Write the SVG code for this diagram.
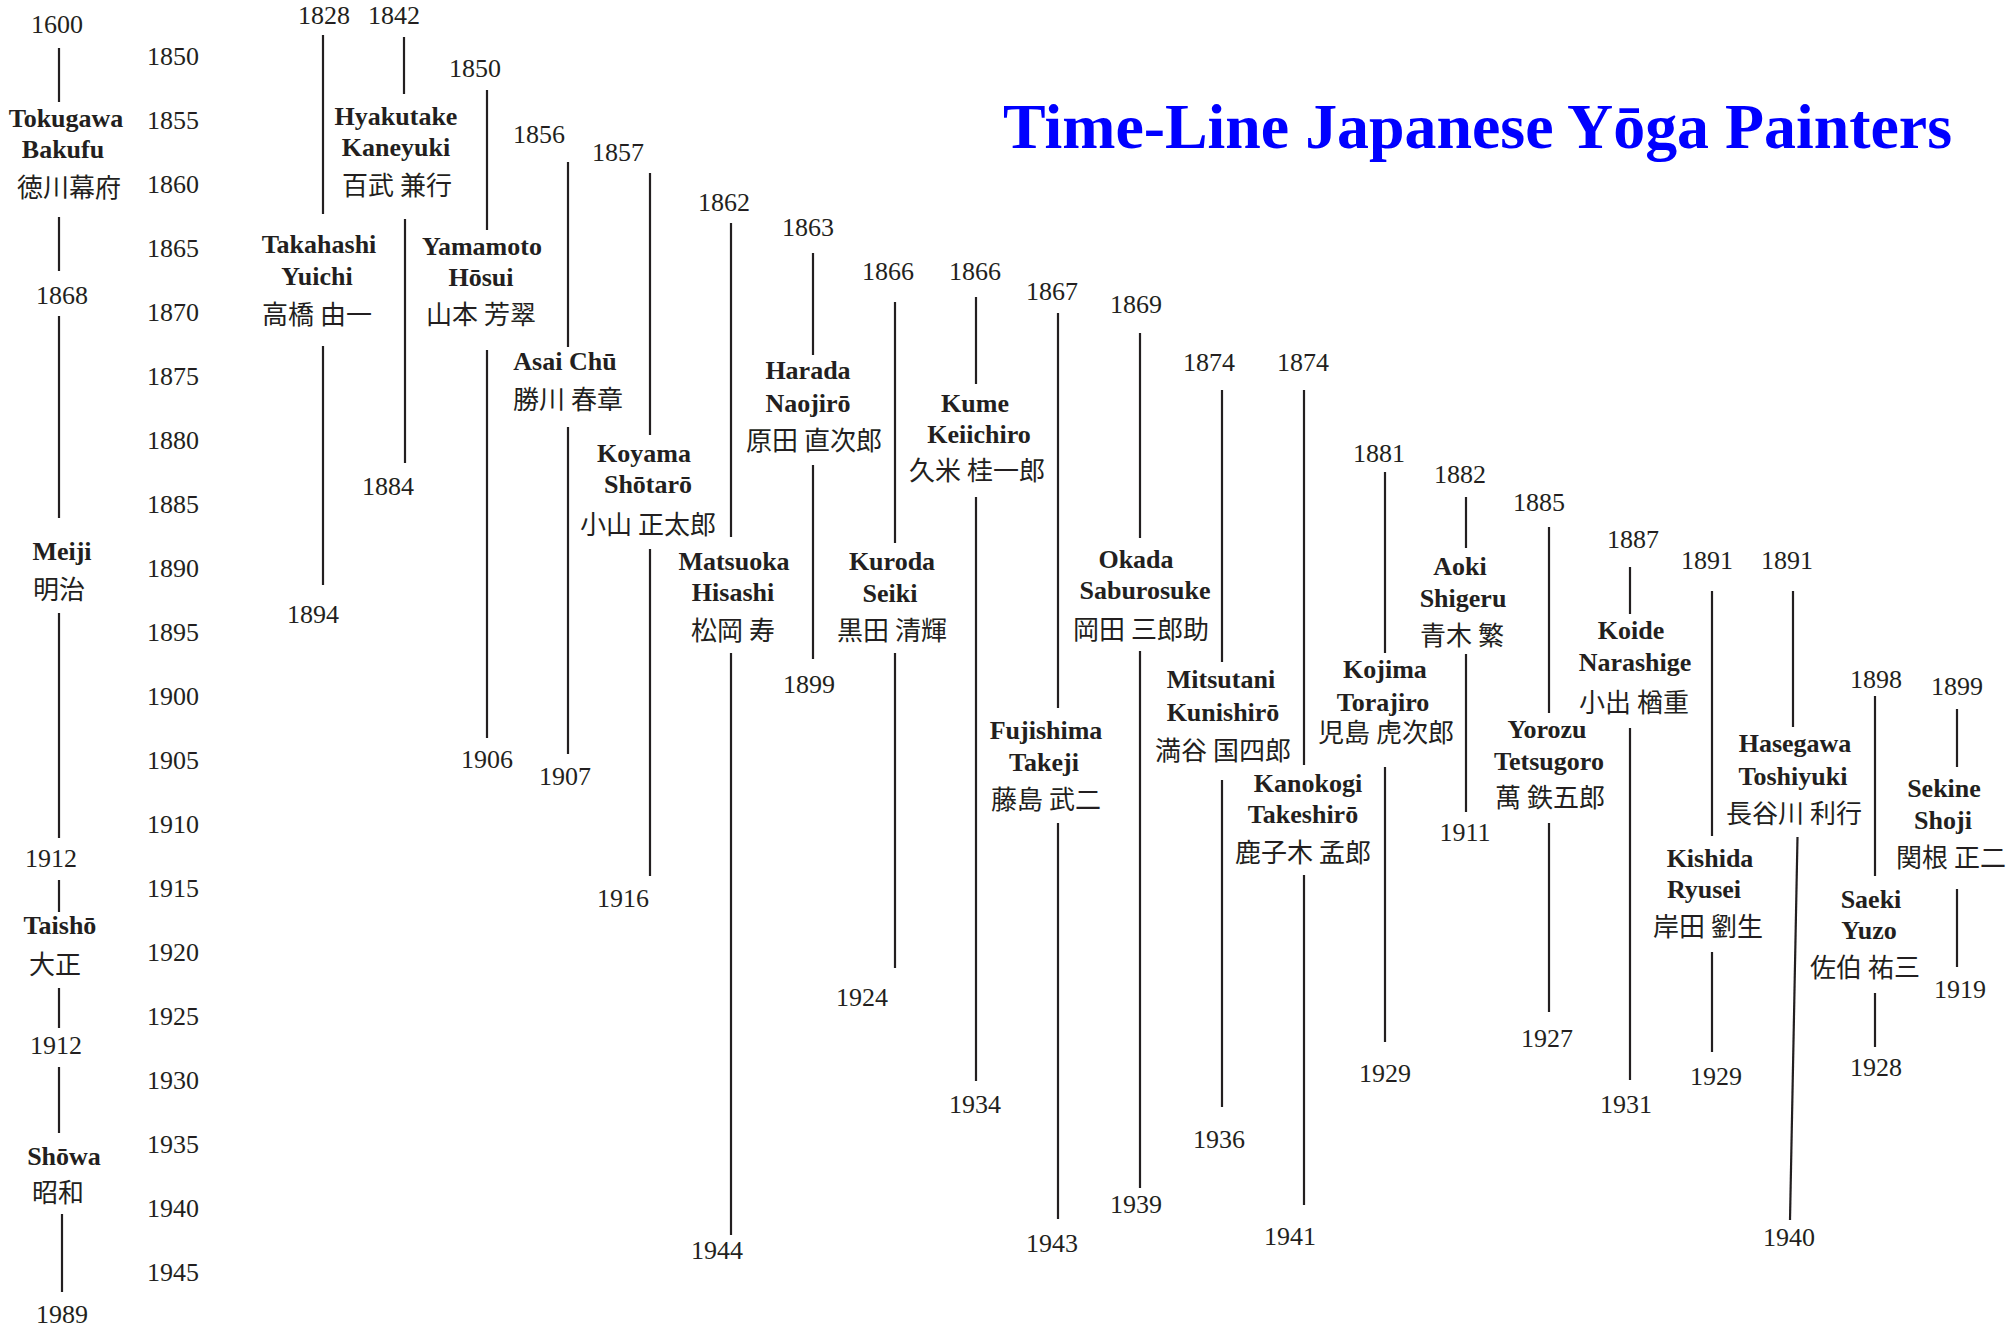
<svg xmlns="http://www.w3.org/2000/svg" width="2011" height="1329" viewBox="0 0 2011 1329">
<style>
text { font-family: "Liberation Serif", "Times New Roman", serif; font-size: 26px; fill: #231f20; text-anchor: middle; }
.b { font-weight: bold; }
.j { font-family: "Noto Sans CJK JP", "Noto Sans CJK SC", sans-serif; font-size: 26px; }
.title { font-size: 64px; font-weight: bold; fill: #0000ff; text-anchor: start; }
#connectors line { stroke: #231f20; stroke-width: 2.2; }
</style>
<rect width="2011" height="1329" fill="#ffffff"/>

<text class="title b" x="1003" y="148" textLength="949" lengthAdjust="spacingAndGlyphs">Time-Line Japanese Yōga Painters</text>

<g id="connectors">
  <!-- eras -->
  <line x1="59" y1="48" x2="59" y2="102"/>
  <line x1="59" y1="217" x2="59" y2="271"/>
  <line x1="59" y1="316" x2="59" y2="518"/>
  <line x1="59" y1="613" x2="59" y2="838"/>
  <line x1="59" y1="880" x2="59" y2="912"/>
  <line x1="59" y1="988" x2="59" y2="1028"/>
  <line x1="59" y1="1067" x2="59" y2="1133"/>
  <line x1="62" y1="1214" x2="62" y2="1292"/>
  <!-- Takahashi -->
  <line x1="323" y1="35" x2="323" y2="214"/>
  <line x1="323" y1="346" x2="323" y2="585"/>
  <!-- Hyakutake -->
  <line x1="404" y1="37" x2="404" y2="94"/>
  <line x1="405" y1="219" x2="405" y2="463"/>
  <!-- Yamamoto -->
  <line x1="487" y1="90" x2="487" y2="230"/>
  <line x1="487" y1="350" x2="487" y2="738"/>
  <!-- Asai -->
  <line x1="568" y1="162" x2="568" y2="347"/>
  <line x1="568" y1="427" x2="568" y2="754"/>
  <!-- Koyama -->
  <line x1="650" y1="173" x2="650" y2="435"/>
  <line x1="650" y1="549" x2="650" y2="876"/>
  <!-- Matsuoka -->
  <line x1="731" y1="223" x2="731" y2="537"/>
  <line x1="731" y1="653" x2="731" y2="1235"/>
  <!-- Harada -->
  <line x1="813" y1="253" x2="813" y2="355"/>
  <line x1="813" y1="465" x2="813" y2="659"/>
  <!-- Kuroda -->
  <line x1="895" y1="302" x2="895" y2="543"/>
  <line x1="895" y1="653" x2="895" y2="968"/>
  <!-- Kume -->
  <line x1="976" y1="297" x2="976" y2="384"/>
  <line x1="976" y1="497" x2="976" y2="1081"/>
  <!-- Fujishima -->
  <line x1="1058" y1="313" x2="1058" y2="708"/>
  <line x1="1058" y1="823" x2="1058" y2="1219"/>
  <!-- Okada -->
  <line x1="1140" y1="333" x2="1140" y2="538"/>
  <line x1="1140" y1="651" x2="1140" y2="1188"/>
  <!-- Mitsutani -->
  <line x1="1222" y1="390" x2="1222" y2="662"/>
  <line x1="1222" y1="780" x2="1222" y2="1107"/>
  <!-- Kanokogi -->
  <line x1="1304" y1="390" x2="1304" y2="765"/>
  <line x1="1304" y1="875" x2="1304" y2="1205"/>
  <!-- Kojima -->
  <line x1="1385" y1="472" x2="1385" y2="653"/>
  <line x1="1385" y1="767" x2="1385" y2="1042"/>
  <!-- Aoki -->
  <line x1="1466" y1="497" x2="1466" y2="548"/>
  <line x1="1466" y1="654" x2="1466" y2="812"/>
  <!-- Yorozu -->
  <line x1="1549" y1="527" x2="1549" y2="713"/>
  <line x1="1549" y1="823" x2="1549" y2="1012"/>
  <!-- Koide -->
  <line x1="1630" y1="567" x2="1630" y2="614"/>
  <line x1="1630" y1="728" x2="1630" y2="1080"/>
  <!-- Kishida -->
  <line x1="1712" y1="591" x2="1712" y2="836"/>
  <line x1="1712" y1="952" x2="1712" y2="1052"/>
  <!-- Hasegawa -->
  <line x1="1793" y1="591" x2="1793" y2="727"/>
  <line x1="1797.5" y1="837" x2="1790" y2="1220"/>
  <!-- Saeki -->
  <line x1="1875" y1="696" x2="1875" y2="876"/>
  <line x1="1875" y1="993" x2="1875" y2="1047"/>
  <!-- Sekine -->
  <line x1="1957" y1="709" x2="1957" y2="767"/>
  <line x1="1957" y1="889" x2="1957" y2="967"/>
</g>

<g id="axis">
  <text x="173" y="65">1850</text>
  <text x="173" y="129">1855</text>
  <text x="173" y="193">1860</text>
  <text x="173" y="257">1865</text>
  <text x="173" y="321">1870</text>
  <text x="173" y="385">1875</text>
  <text x="173" y="449">1880</text>
  <text x="173" y="513">1885</text>
  <text x="173" y="577">1890</text>
  <text x="173" y="641">1895</text>
  <text x="173" y="705">1900</text>
  <text x="173" y="769">1905</text>
  <text x="173" y="833">1910</text>
  <text x="173" y="897">1915</text>
  <text x="173" y="961">1920</text>
  <text x="173" y="1025">1925</text>
  <text x="173" y="1089">1930</text>
  <text x="173" y="1153">1935</text>
  <text x="173" y="1217">1940</text>
  <text x="173" y="1281">1945</text>
</g>

<g id="era-tokugawa">
  <text x="57" y="33">1600</text>
  <text class="b" x="66" y="127">Tokugawa</text>
  <text class="b" x="63" y="158">Bakufu</text>
  <text class="j" x="69" y="197">徳川幕府</text>
  <text x="62" y="304">1868</text>
</g>
<g id="era-meiji">
  <text class="b" x="62" y="560">Meiji</text>
  <text class="j" x="59" y="599">明治</text>
  <text x="51" y="867">1912</text>
</g>
<g id="era-taisho">
  <text class="b" x="60" y="934">Taishō</text>
  <text class="j" x="55" y="974">大正</text>
  <text x="56" y="1054">1912</text>
</g>
<g id="era-showa">
  <text class="b" x="64" y="1165">Shōwa</text>
  <text class="j" x="58" y="1202">昭和</text>
  <text x="62" y="1323">1989</text>
</g>

<g id="takahashi">
  <text x="324" y="24">1828</text>
  <text class="b" x="319" y="253">Takahashi</text>
  <text class="b" x="317" y="285">Yuichi</text>
  <text class="j" x="317" y="324">高橋 由一</text>
  <text x="313" y="623">1894</text>
</g>
<g id="hyakutake">
  <text x="394" y="24">1842</text>
  <text class="b" x="396" y="125">Hyakutake</text>
  <text class="b" x="396" y="156">Kaneyuki</text>
  <text class="j" x="397" y="195">百武 兼行</text>
  <text x="388" y="495">1884</text>
</g>
<g id="yamamoto">
  <text x="475" y="77">1850</text>
  <text class="b" x="482" y="255">Yamamoto</text>
  <text class="b" x="481" y="286">Hōsui</text>
  <text class="j" x="481" y="324">山本 芳翠</text>
  <text x="487" y="768">1906</text>
</g>
<g id="asai">
  <text x="539" y="143">1856</text>
  <text class="b" x="565" y="370">Asai Chū</text>
  <text class="j" x="568" y="409">勝川 春章</text>
  <text x="565" y="785">1907</text>
</g>
<g id="koyama">
  <text x="618" y="161">1857</text>
  <text class="b" x="644" y="462">Koyama</text>
  <text class="b" x="648" y="493">Shōtarō</text>
  <text class="j" x="648" y="534">小山 正太郎</text>
  <text x="623" y="907">1916</text>
</g>
<g id="matsuoka">
  <text x="724" y="211">1862</text>
  <text class="b" x="734" y="570">Matsuoka</text>
  <text class="b" x="733" y="601">Hisashi</text>
  <text class="j" x="733" y="640">松岡 寿</text>
  <text x="717" y="1259">1944</text>
</g>
<g id="harada">
  <text x="808" y="236">1863</text>
  <text class="b" x="808" y="379">Harada</text>
  <text class="b" x="808" y="412">Naojirō</text>
  <text class="j" x="814" y="450">原田 直次郎</text>
  <text x="809" y="693">1899</text>
</g>
<g id="kuroda">
  <text x="888" y="280">1866</text>
  <text class="b" x="892" y="570">Kuroda</text>
  <text class="b" x="890" y="602">Seiki</text>
  <text class="j" x="892" y="640">黒田 清輝</text>
  <text x="862" y="1006">1924</text>
</g>
<g id="kume">
  <text x="975" y="280">1866</text>
  <text class="b" x="975" y="412">Kume</text>
  <text class="b" x="979" y="443">Keiichiro</text>
  <text class="j" x="977" y="480">久米 桂一郎</text>
  <text x="975" y="1113">1934</text>
</g>
<g id="fujishima">
  <text x="1052" y="300">1867</text>
  <text class="b" x="1046" y="739">Fujishima</text>
  <text class="b" x="1044" y="771">Takeji</text>
  <text class="j" x="1046" y="809">藤島 武二</text>
  <text x="1052" y="1252">1943</text>
</g>
<g id="okada">
  <text x="1136" y="313">1869</text>
  <text class="b" x="1136" y="568">Okada</text>
  <text class="b" x="1145" y="599">Saburosuke</text>
  <text class="j" x="1141" y="639">岡田 三郎助</text>
  <text x="1136" y="1213">1939</text>
</g>
<g id="mitsutani">
  <text x="1209" y="371">1874</text>
  <text class="b" x="1221" y="688">Mitsutani</text>
  <text class="b" x="1223" y="721">Kunishirō</text>
  <text class="j" x="1223" y="760">満谷 国四郎</text>
  <text x="1219" y="1148">1936</text>
</g>
<g id="kanokogi">
  <text x="1303" y="371">1874</text>
  <text class="b" x="1308" y="792">Kanokogi</text>
  <text class="b" x="1303" y="823">Takeshirō</text>
  <text class="j" x="1303" y="862">鹿子木 孟郎</text>
  <text x="1290" y="1245">1941</text>
</g>
<g id="kojima">
  <text x="1379" y="462">1881</text>
  <text class="b" x="1385" y="678">Kojima</text>
  <text class="b" x="1383" y="711">Torajiro</text>
  <text class="j" x="1386" y="742">児島 虎次郎</text>
  <text x="1385" y="1082">1929</text>
</g>
<g id="aoki">
  <text x="1460" y="483">1882</text>
  <text class="b" x="1460" y="575">Aoki</text>
  <text class="b" x="1463" y="607">Shigeru</text>
  <text class="j" x="1462" y="645">青木 繁</text>
  <text x="1465" y="841">1911</text>
</g>
<g id="yorozu">
  <text x="1539" y="511">1885</text>
  <text class="b" x="1547" y="738">Yorozu</text>
  <text class="b" x="1549" y="770">Tetsugoro</text>
  <text class="j" x="1550" y="807">萬 鉄五郎</text>
  <text x="1547" y="1047">1927</text>
</g>
<g id="koide">
  <text x="1633" y="548">1887</text>
  <text class="b" x="1631" y="639">Koide</text>
  <text class="b" x="1635" y="671">Narashige</text>
  <text class="j" x="1634" y="712">小出 楢重</text>
  <text x="1626" y="1113">1931</text>
</g>
<g id="kishida">
  <text x="1707" y="569">1891</text>
  <text class="b" x="1710" y="867">Kishida</text>
  <text class="b" x="1704" y="898">Ryusei</text>
  <text class="j" x="1708" y="936">岸田 劉生</text>
  <text x="1716" y="1085">1929</text>
</g>
<g id="hasegawa">
  <text x="1787" y="569">1891</text>
  <text class="b" x="1795" y="752">Hasegawa</text>
  <text class="b" x="1793" y="785">Toshiyuki</text>
  <text class="j" x="1794" y="823">長谷川 利行</text>
  <text x="1789" y="1246">1940</text>
</g>
<g id="saeki">
  <text x="1876" y="688">1898</text>
  <text class="b" x="1871" y="908">Saeki</text>
  <text class="b" x="1869" y="939">Yuzo</text>
  <text class="j" x="1865" y="977">佐伯 祐三</text>
  <text x="1876" y="1076">1928</text>
</g>
<g id="sekine">
  <text x="1957" y="695">1899</text>
  <text class="b" x="1944" y="797">Sekine</text>
  <text class="b" x="1943" y="829">Shoji</text>
  <text class="j" x="1951" y="867">関根 正二</text>
  <text x="1960" y="998">1919</text>
</g>
</svg>
